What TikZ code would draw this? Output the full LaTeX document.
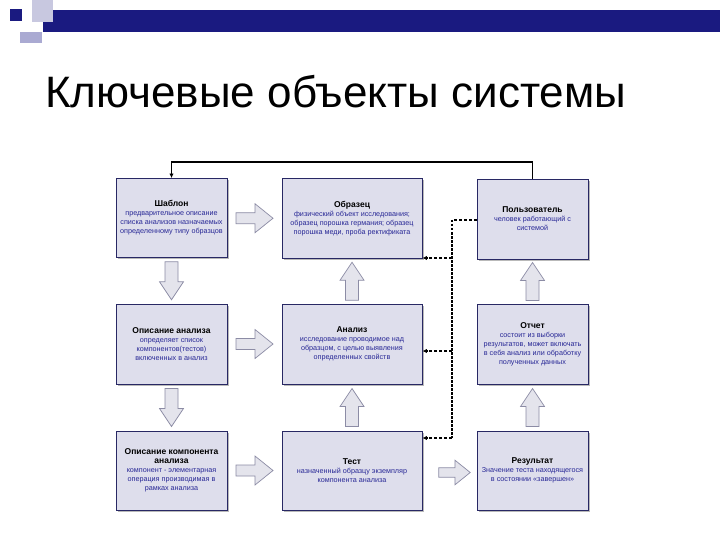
\documentclass[tikz,border=0pt]{standalone}
\usepackage{fontspec}
\setmainfont{Liberation Sans}
\usetikzlibrary{arrows.meta,calc,shadows}
\definecolor{boxfill}{RGB}{222,222,236}
\definecolor{boxline}{RGB}{40,40,100}
\definecolor{desc}{RGB}{40,40,150}
\definecolor{arrfill}{RGB}{228,228,236}
\definecolor{arrline}{RGB}{140,140,165}
\definecolor{navy}{RGB}{26,26,128}
\definecolor{lav1}{RGB}{200,200,224}
\definecolor{lav2}{RGB}{170,170,210}
\tikzset{
  box/.style={draw=boxline, fill=boxfill, line width=0.9pt, align=center,
    inner sep=2pt, text=desc, font=\fontsize{7.2}{9}\selectfont,
    drop shadow={shadow xshift=1.6pt, shadow yshift=-1.6pt, opacity=0.55, fill=gray}},
  narrow/.style={box, minimum width=111pt, minimum height=79pt},
  wide/.style={box, minimum width=140pt, minimum height=80pt},
  barrow/.style={draw=arrline, fill=arrfill, line width=0.7pt},
  rarr/.pic={\draw[barrow] (-18.5,-5.5) -- (0.5,-5.5) -- (0.5,-14.5) -- (18.5,0)
      -- (0.5,14.5) -- (0.5,5.5) -- (-18.5,5.5) -- cycle;},
  darr/.pic={\draw[barrow] (-6.5,-19) -- (6.5,-19) -- (6.5,1) -- (12,1) -- (0,19)
      -- (-12,1) -- (-6.5,1) -- cycle;},
  uarr/.pic={\draw[barrow] (-6.5,19) -- (6.5,19) -- (6.5,-1) -- (12,-1) -- (0,-19)
      -- (-12,-1) -- (-6.5,-1) -- cycle;},
  dashline/.style={line width=1.8pt, dash pattern=on 3pt off 2pt},
  dotline/.style={line width=2.2pt, dash pattern=on 2.5pt off 1.5pt},
  tip/.style={-{Latex[length=4.5pt,width=4.5pt]}},
}
\newcommand\ttl[1]{{\color{black}\fontsize{8.5}{10}\selectfont\bfseries #1}}
\begin{document}
\begin{tikzpicture}[x=1pt,y=-1pt]
\useasboundingbox (0,0) rectangle (720,540);
\fill[white] (0,0) rectangle (720,540);
% decoration
\fill[navy] (43,10) rectangle (720,32);
\fill[lav1] (32,0) rectangle (53,22);
\fill[navy] (10,9) rectangle (22,21);
\fill[lav2] (20,32) rectangle (42,43);
% title
\node[anchor=base west, inner sep=0, font=\fontsize{44}{50}\selectfont] (title) at (45,108) {Ключевые объекты системы};
% boxes
\node[narrow] (b1) at (171.5,218) {\ttl{Шаблон}\\предварительное описание\\списка анализов назначаемых\\определенному типу образцов};
\node[wide] (b2) at (352,218.5) {\ttl{Образец}\\физический объект исследования;\\образец порошка германия; образец\\порошка меди, проба ректификата};
\node[narrow, minimum height=80pt] (b3) at (532.5,219) {\ttl{Пользователь}\\человек работающий с\\системой};
\node[narrow, minimum height=80pt] (b4) at (171.5,344) {\ttl{Описание анализа}\\определяет список\\компонентов(тестов)\\включенных в анализ};
\node[wide] (b5) at (352,344) {\ttl{Анализ}\\исследование проводимое над\\образцом, с целью выявления\\определенных свойств};
\node[narrow, minimum height=80pt] (b6) at (532.5,344) {\ttl{Отчет}\\состоит из выборки\\результатов, может включать\\в себя анализ или обработку\\полученных данных};
\node[narrow, minimum height=79pt] (b7) at (171.5,470.5) {\ttl{Описание компонента}\\\ttl{анализа}\\компонент - элементарная\\операция производимая в\\рамках анализа};
\node[wide, minimum height=79pt] (b8) at (352,470.5) {\ttl{Тест}\\назначенный образцу экземпляр\\компонента анализа};
\node[narrow, minimum height=79pt] (b9) at (532.5,470.5) {\ttl{Результат}\\Значение теста находящегося\\в состоянии «завершен»};
% block arrows
\pic at ($(b1.east)!0.5!(b2.west)$) {rarr};
\pic at ($(b4.east)!0.5!(b5.west)$) {rarr};
\pic at ($(b7.east)!0.5!(b8.west)$) {rarr};
\pic[scale=0.85] at ($(b8.east)!0.5!(b9.west)+(5,2)$) {rarr};
\pic at ($(b1.south)!0.5!(b4.north)$) {darr};
\pic at ($(b4.south)!0.5!(b7.north)$) {darr};
\pic at ($(b2.south)!0.5!(b5.north)$) {uarr};
\pic at ($(b5.south)!0.5!(b8.north)$) {uarr};
\pic at ($(b3.south)!0.5!(b6.north)$) {uarr};
\pic at ($(b6.south)!0.5!(b9.north)$) {uarr};
% top connector
\coordinate (top) at (532.5,162);
\draw[line width=1.8pt, tip] (b3.north) -- (top) -| (b1.north);
% dashed bus
\coordinate (bt) at (452,220);
\coordinate (j1) at (452,258);
\coordinate (j2) at (452,351);
\coordinate (bb) at (452,438);
\draw[dashline] (b3.west |- bt) -- (bt);
\draw[dotline] (bt) -- (bb);
\draw[dashline, tip] (j1) -- (b2.east |- j1);
\draw[dashline, tip] (j2) -- (b5.east |- j2);
\draw[dashline, tip] (bb) -- (b8.east |- bb);
\end{tikzpicture}
\end{document}
